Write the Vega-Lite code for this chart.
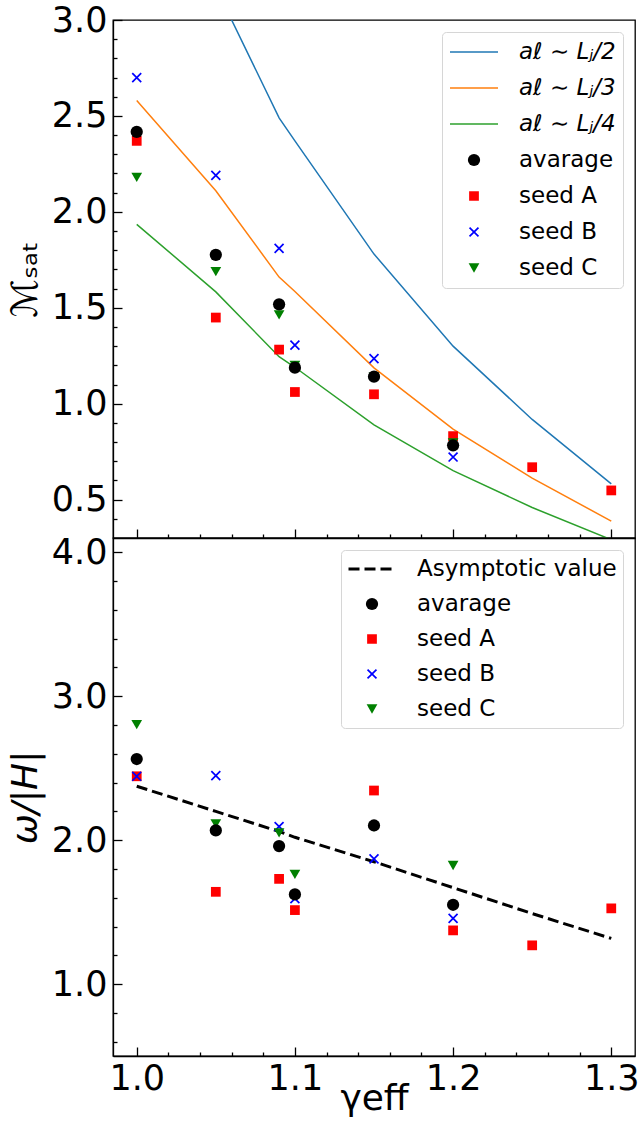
{
  "$schema": "https://vega.github.io/schema/vega-lite/v6.json",
  "background": "white",
  "padding": {"left": 6, "top": 2, "right": 2, "bottom": 2},
  "spacing": 0,
  "bounds": "flush",
  "config": {
    "font": "DejaVu Sans",
    "view": {"stroke": "black", "strokeWidth": 1.3},
    "axis": {
      "domainColor": "black", "domainWidth": 1.3, "tickColor": "black", "tickWidth": 1.3,
      "labelFontSize": 35, "labelColor": "black", "labelFont": "DejaVu Sans", "labelOverlap": false,
      "titleFontSize": 36, "titleFontWeight": "normal", "titleColor": "black", "titleFont": "DejaVu Sans",
      "grid": false
    },
    "legend": {
      "orient": "top-right", "offset": 12, "padding": 7,
      "fillColor": "white", "strokeColor": "#d6d6d6", "cornerRadius": 4,
      "labelFontSize": 23, "labelFont": "DejaVu Sans", "labelColor": "black",
      "labelOffset": 20, "labelLimit": 400, "clipHeight": 26, "rowPadding": 10,
      "symbolOpacity": 1
    }
  },
  "resolve": {
    "scale": {"x": "independent", "y": "independent", "fill": "independent", "stroke": "independent", "shape": "independent", "size": "independent", "strokeWidth": "independent", "strokeDash": "independent"},
    "legend": {"fill": "independent", "stroke": "independent", "shape": "independent", "size": "independent", "strokeWidth": "independent", "strokeDash": "independent"}
  },
  "vconcat": [
    {
      "width": 522,
      "height": 518,
      "resolve": {"axis": {"x": "independent", "y": "independent"}},
      "layer": [
        {
          "data": {"values": [
            {"g": 1.0, "v": 3.87, "s": "aℓ ∼ Lⱼ/2"}, {"g": 1.05, "v": 3.17, "s": "aℓ ∼ Lⱼ/2"}, {"g": 1.09, "v": 2.49, "s": "aℓ ∼ Lⱼ/2"}, {"g": 1.1, "v": 2.37, "s": "aℓ ∼ Lⱼ/2"},
            {"g": 1.15, "v": 1.78, "s": "aℓ ∼ Lⱼ/2"}, {"g": 1.2, "v": 1.30, "s": "aℓ ∼ Lⱼ/2"}, {"g": 1.25, "v": 0.918, "s": "aℓ ∼ Lⱼ/2"}, {"g": 1.3, "v": 0.582, "s": "aℓ ∼ Lⱼ/2"},
            {"g": 1.0, "v": 2.58, "s": "aℓ ∼ Lⱼ/3"}, {"g": 1.05, "v": 2.11, "s": "aℓ ∼ Lⱼ/3"}, {"g": 1.09, "v": 1.66, "s": "aℓ ∼ Lⱼ/3"}, {"g": 1.1, "v": 1.585, "s": "aℓ ∼ Lⱼ/3"},
            {"g": 1.15, "v": 1.187, "s": "aℓ ∼ Lⱼ/3"}, {"g": 1.2, "v": 0.868, "s": "aℓ ∼ Lⱼ/3"}, {"g": 1.25, "v": 0.612, "s": "aℓ ∼ Lⱼ/3"}, {"g": 1.3, "v": 0.388, "s": "aℓ ∼ Lⱼ/3"},
            {"g": 1.0, "v": 1.935, "s": "aℓ ∼ Lⱼ/4"}, {"g": 1.05, "v": 1.583, "s": "aℓ ∼ Lⱼ/4"}, {"g": 1.09, "v": 1.245, "s": "aℓ ∼ Lⱼ/4"}, {"g": 1.1, "v": 1.19, "s": "aℓ ∼ Lⱼ/4"},
            {"g": 1.15, "v": 0.89, "s": "aℓ ∼ Lⱼ/4"}, {"g": 1.2, "v": 0.651, "s": "aℓ ∼ Lⱼ/4"}, {"g": 1.25, "v": 0.459, "s": "aℓ ∼ Lⱼ/4"}, {"g": 1.3, "v": 0.291, "s": "aℓ ∼ Lⱼ/4"}
          ]},
          "mark": {"type": "line", "clip": true},
          "encoding": {
            "x": {"field": "g", "type": "quantitative", "scale": {"domain": [0.985, 1.315], "nice": false, "zero": false},
              "axis": {"title": null, "labels": false, "orient": "bottom", "values": [1.0, 1.1, 1.2, 1.3], "tickSize": -9}},
            "y": {"field": "v", "type": "quantitative", "scale": {"domain": [0.3, 3.0], "nice": false, "zero": false},
              "axis": {"title": "ℳₛₐₜ", "orient": "left", "titlePadding": 7, "labelPadding": 15, "format": ".1f",
                "values": [0.5, 1.0, 1.5, 2.0, 2.5, 3.0], "tickSize": -9}},
            "stroke": {"field": "s", "type": "nominal", "title": null,
              "scale": {"type": "ordinal", "domain": ["aℓ ∼ Lⱼ/2", "aℓ ∼ Lⱼ/3", "aℓ ∼ Lⱼ/4", "avarage", "seed A", "seed B", "seed C"], "range": ["#1f77b4", "#ff7f0e", "#2ca02c", "black", "red", "blue", "green"]},
              "legend": {"encoding": {"labels": {"fontStyle": {"condition": {"test": "indexof(datum.label, 'ℓ') >= 0", "value": "italic"}, "value": "normal"}}}}},
            "strokeWidth": {"field": "s", "type": "nominal", "title": null,
              "scale": {"type": "ordinal", "domain": ["aℓ ∼ Lⱼ/2", "aℓ ∼ Lⱼ/3", "aℓ ∼ Lⱼ/4", "avarage", "seed A", "seed B", "seed C"], "range": [1.5, 1.5, 1.5, 0, 0, 1.7, 0]}}
          }
        },
        {
          "data": {"values": [
            {"g": 1.0, "v": 2.37, "s": "seed A"}, {"g": 1.05, "v": 1.449, "s": "seed A"}, {"g": 1.09, "v": 1.282, "s": "seed A"}, {"g": 1.1, "v": 1.061, "s": "seed A"},
            {"g": 1.15, "v": 1.049, "s": "seed A"}, {"g": 1.2, "v": 0.831, "s": "seed A"}, {"g": 1.25, "v": 0.669, "s": "seed A"}, {"g": 1.3, "v": 0.548, "s": "seed A"},
            {"g": 1.0, "v": 2.70, "s": "seed B"}, {"g": 1.05, "v": 2.19, "s": "seed B"}, {"g": 1.09, "v": 1.81, "s": "seed B"}, {"g": 1.1, "v": 1.305, "s": "seed B"},
            {"g": 1.15, "v": 1.235, "s": "seed B"}, {"g": 1.2, "v": 0.722, "s": "seed B"},
            {"g": 1.0, "v": 2.18, "s": "seed C"}, {"g": 1.05, "v": 1.688, "s": "seed C"}, {"g": 1.09, "v": 1.463, "s": "seed C"}, {"g": 1.1, "v": 1.20, "s": "seed C"},
            {"g": 1.15, "v": 1.139, "s": "seed C"}, {"g": 1.2, "v": 0.796, "s": "seed C"},
            {"g": 1.0, "v": 2.417, "s": "avarage"}, {"g": 1.05, "v": 1.776, "s": "avarage"}, {"g": 1.09, "v": 1.518, "s": "avarage"}, {"g": 1.1, "v": 1.188, "s": "avarage"},
            {"g": 1.15, "v": 1.141, "s": "avarage"}, {"g": 1.2, "v": 0.783, "s": "avarage"}
          ]},
          "mark": {"type": "point", "filled": true, "opacity": 1, "clip": true},
          "encoding": {
            "x": {"field": "g", "type": "quantitative",
              "axis": {"title": null, "labels": false, "domain": false, "orient": "bottom", "tickSize": -4,
                "values": [1.02, 1.04, 1.06, 1.08, 1.12, 1.14, 1.16, 1.18, 1.22, 1.24, 1.26, 1.28]}},
            "y": {"field": "v", "type": "quantitative",
              "axis": {"title": null, "labels": false, "domain": false, "orient": "left", "tickSize": -4,
                "values": [0.4, 0.6, 0.7, 0.8, 0.9, 1.1, 1.2, 1.3, 1.4, 1.6, 1.7, 1.8, 1.9, 2.1, 2.2, 2.3, 2.4, 2.6, 2.7, 2.8, 2.9]}},
            "fill": {"field": "s", "type": "nominal", "title": null,
              "scale": {"type": "ordinal", "domain": ["aℓ ∼ Lⱼ/2", "aℓ ∼ Lⱼ/3", "aℓ ∼ Lⱼ/4", "avarage", "seed A", "seed B", "seed C"], "range": ["#1f77b4", "#ff7f0e", "#2ca02c", "black", "red", "blue", "green"]}},
            "stroke": {"field": "s", "type": "nominal", "title": null,
              "scale": {"type": "ordinal", "domain": ["aℓ ∼ Lⱼ/2", "aℓ ∼ Lⱼ/3", "aℓ ∼ Lⱼ/4", "avarage", "seed A", "seed B", "seed C"], "range": ["#1f77b4", "#ff7f0e", "#2ca02c", "black", "red", "blue", "green"]}},
            "strokeWidth": {"field": "s", "type": "nominal", "title": null,
              "scale": {"type": "ordinal", "domain": ["aℓ ∼ Lⱼ/2", "aℓ ∼ Lⱼ/3", "aℓ ∼ Lⱼ/4", "avarage", "seed A", "seed B", "seed C"], "range": [1.5, 1.5, 1.5, 0, 0, 1.7, 0]}},
            "shape": {"field": "s", "type": "nominal", "title": null,
              "scale": {"type": "ordinal", "domain": ["aℓ ∼ Lⱼ/2", "aℓ ∼ Lⱼ/3", "aℓ ∼ Lⱼ/4", "avarage", "seed A", "seed B", "seed C"], "range": ["stroke", "stroke", "stroke", "circle", "square", "M-1,-1L1,1M-1,1L1,-1", "triangle-down"]}},
            "size": {"field": "s", "type": "nominal", "title": null,
              "scale": {"type": "ordinal", "domain": ["aℓ ∼ Lⱼ/2", "aℓ ∼ Lⱼ/3", "aℓ ∼ Lⱼ/4", "avarage", "seed A", "seed B", "seed C"], "range": [2304, 2304, 2304, 150, 95, 80, 115]}}
          }
        }
      ]
    },
    {
      "width": 522,
      "height": 518,
      "resolve": {"axis": {"x": "independent", "y": "independent"}},
      "layer": [
        {
          "data": {"values": [
            {"g": 1.0, "v": 2.375, "s": "Asymptotic value"}, {"g": 1.05, "v": 2.20, "s": "Asymptotic value"}, {"g": 1.09, "v": 2.06, "s": "Asymptotic value"}, {"g": 1.1, "v": 2.02, "s": "Asymptotic value"},
            {"g": 1.15, "v": 1.85, "s": "Asymptotic value"}, {"g": 1.2, "v": 1.67, "s": "Asymptotic value"}, {"g": 1.25, "v": 1.49, "s": "Asymptotic value"}, {"g": 1.3, "v": 1.317, "s": "Asymptotic value"}
          ]},
          "mark": {"type": "line", "clip": true},
          "encoding": {
            "x": {"field": "g", "type": "quantitative", "scale": {"domain": [0.985, 1.315], "nice": false, "zero": false},
              "axis": {"title": "γeff", "orient": "bottom", "titlePadding": -15, "labelPadding": 14, "format": ".1f",
                "values": [1.0, 1.1, 1.2, 1.3], "tickSize": -9}},
            "y": {"field": "v", "type": "quantitative", "scale": {"domain": [0.5, 4.1], "nice": false, "zero": false},
              "axis": {"title": "ω/|H|", "orient": "left", "titleFontStyle": "italic", "titlePadding": 7, "labelPadding": 15, "format": ".1f",
                "values": [1.0, 2.0, 3.0, 4.0], "tickSize": -9}},
            "stroke": {"field": "s", "type": "nominal", "title": null,
              "scale": {"type": "ordinal", "domain": ["Asymptotic value", "avarage", "seed A", "seed B", "seed C"], "range": ["black", "black", "red", "blue", "green"]},
              "legend": {"padding": 6, "rowPadding": 9}},
            "strokeWidth": {"field": "s", "type": "nominal", "title": null,
              "scale": {"type": "ordinal", "domain": ["Asymptotic value", "avarage", "seed A", "seed B", "seed C"], "range": [3, 0, 0, 1.7, 0]}},
            "strokeDash": {"field": "s", "type": "nominal", "title": null,
              "scale": {"type": "ordinal", "domain": ["Asymptotic value", "avarage", "seed A", "seed B", "seed C"], "range": [[11, 5], [100, 0], [100, 0], [100, 0], [100, 0]]}}
          }
        },
        {
          "data": {"values": [
            {"g": 1.0, "v": 2.444, "s": "seed A"}, {"g": 1.05, "v": 1.641, "s": "seed A"}, {"g": 1.09, "v": 1.731, "s": "seed A"}, {"g": 1.1, "v": 1.514, "s": "seed A"},
            {"g": 1.15, "v": 2.345, "s": "seed A"}, {"g": 1.2, "v": 1.373, "s": "seed A"}, {"g": 1.25, "v": 1.269, "s": "seed A"}, {"g": 1.3, "v": 1.526, "s": "seed A"},
            {"g": 1.0, "v": 2.444, "s": "seed B"}, {"g": 1.05, "v": 2.449, "s": "seed B"}, {"g": 1.09, "v": 2.095, "s": "seed B"}, {"g": 1.1, "v": 1.593, "s": "seed B"},
            {"g": 1.15, "v": 1.870, "s": "seed B"}, {"g": 1.2, "v": 1.456, "s": "seed B"},
            {"g": 1.0, "v": 2.803, "s": "seed C"}, {"g": 1.05, "v": 2.113, "s": "seed C"}, {"g": 1.09, "v": 2.051, "s": "seed C"}, {"g": 1.1, "v": 1.762, "s": "seed C"},
            {"g": 1.15, "v": 2.091, "s": "seed C"}, {"g": 1.2, "v": 1.824, "s": "seed C"},
            {"g": 1.0, "v": 2.564, "s": "avarage"}, {"g": 1.05, "v": 2.068, "s": "avarage"}, {"g": 1.09, "v": 1.959, "s": "avarage"}, {"g": 1.1, "v": 1.623, "s": "avarage"},
            {"g": 1.15, "v": 2.102, "s": "avarage"}, {"g": 1.2, "v": 1.551, "s": "avarage"}
          ]},
          "mark": {"type": "point", "filled": true, "opacity": 1, "clip": true},
          "encoding": {
            "x": {"field": "g", "type": "quantitative",
              "axis": {"title": null, "labels": false, "domain": false, "orient": "bottom", "tickSize": -4,
                "values": [1.02, 1.04, 1.06, 1.08, 1.12, 1.14, 1.16, 1.18, 1.22, 1.24, 1.26, 1.28]}},
            "y": {"field": "v", "type": "quantitative",
              "axis": {"title": null, "labels": false, "domain": false, "orient": "left", "tickSize": -4,
                "values": [0.6, 0.8, 1.2, 1.4, 1.6, 1.8, 2.2, 2.4, 2.6, 2.8, 3.2, 3.4, 3.6, 3.8]}},
            "fill": {"field": "s", "type": "nominal", "title": null,
              "scale": {"type": "ordinal", "domain": ["Asymptotic value", "avarage", "seed A", "seed B", "seed C"], "range": ["black", "black", "red", "blue", "green"]}},
            "stroke": {"field": "s", "type": "nominal", "title": null,
              "scale": {"type": "ordinal", "domain": ["Asymptotic value", "avarage", "seed A", "seed B", "seed C"], "range": ["black", "black", "red", "blue", "green"]}},
            "strokeWidth": {"field": "s", "type": "nominal", "title": null,
              "scale": {"type": "ordinal", "domain": ["Asymptotic value", "avarage", "seed A", "seed B", "seed C"], "range": [3, 0, 0, 1.7, 0]}},
            "shape": {"field": "s", "type": "nominal", "title": null,
              "scale": {"type": "ordinal", "domain": ["Asymptotic value", "avarage", "seed A", "seed B", "seed C"], "range": ["stroke", "circle", "square", "M-1,-1L1,1M-1,1L1,-1", "triangle-down"]}},
            "size": {"field": "s", "type": "nominal", "title": null,
              "scale": {"type": "ordinal", "domain": ["Asymptotic value", "avarage", "seed A", "seed B", "seed C"], "range": [2209, 150, 95, 80, 115]}}
          }
        }
      ]
    }
  ]
}
